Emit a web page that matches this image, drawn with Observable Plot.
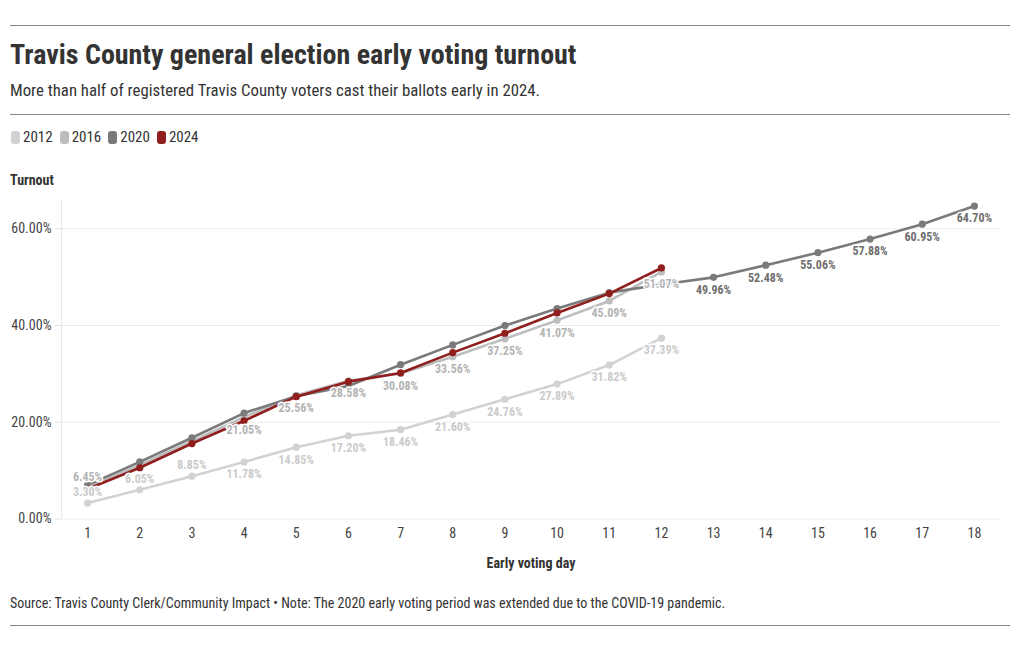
<!DOCTYPE html>
<html>
<head>
<meta charset="utf-8">
<script src="https://cdn.jsdelivr.net/npm/d3@7"></script>
<script src="https://cdn.jsdelivr.net/npm/@observablehq/plot@0.6"></script>
<style>
  html, body { margin: 0; padding: 0; background: #fff; }
  body { width: 1020px; height: 650px; position: relative; overflow: hidden;
         font-family: "Roboto Condensed", "Liberation Sans Narrow", "Arial Narrow", "DejaVu Sans Condensed", Roboto, sans-serif; color: #333; }
  .abs { position: absolute; white-space: nowrap; }
  .rule { position: absolute; left: 10px; width: 1000px; height: 0; border-top: 1px solid #858585; }
  #title { left: 10px; top: 37px; font-size: 28px; font-weight: 700; color: #333; line-height: 36px; }
  #subtitle { left: 10px; top: 80px; font-size: 16.8px; color: #333; line-height: 20px; }
  #legend { left: 11px; top: 128px; font-size: 15px; line-height: 18px; color: #333; display: flex; align-items: center; }
  #legend .item { display: flex; align-items: center; margin-right: 7px; }
  #legend .sw { width: 9px; height: 13px; border-radius: 3px; margin-right: 3px; }
  #ylabel { left: 10px; top: 171px; font-size: 14px; font-weight: 700; color: #333; line-height: 18px; }
  #xlabel { left: 0; width: 1062px; text-align: center; top: 554px; font-size: 14px; font-weight: 700; color: #333; line-height: 18px; }
  #source { left: 10px; top: 594px; font-size: 14px; color: #333; line-height: 18px; }
  #chart { position: absolute; left: 0; top: 195px; }
</style>
</head>
<body>
<div class="rule" style="top:25px"></div>
<div id="title" class="abs">Travis County general election early voting turnout</div>
<div id="subtitle" class="abs">More than half of registered Travis County voters cast their ballots early in 2024.</div>
<div class="rule" style="top:114px"></div>
<div id="legend" class="abs"></div>
<div id="ylabel" class="abs">Turnout</div>
<div id="chart"></div>
<div id="xlabel" class="abs">Early voting day</div>
<div id="source" class="abs">Source: Travis County Clerk/Community Impact • Note: The 2020 early voting period was extended due to the COVID-19 pandemic.</div>
<div class="rule" style="top:625px"></div>
<script>
// ---- data (turnout % by early voting day) ----
const days = [1, 2, 3, 4, 5, 6, 7, 8, 9, 10, 11, 12, 13, 14, 15, 16, 17, 18];
const years = ["2012", "2016", "2020", "2024"];
const turnout2012 = [3.30, 6.05, 8.85, 11.78, 14.85, 17.20, 18.46, 21.60, 24.76, 27.89, 31.82, 37.39];
const turnout2016 = [6.45, 11.2, 16.1, 21.05, 25.56, 28.58, 30.08, 33.56, 37.25, 41.07, 45.09, 51.07];
const turnout2020 = [7.0, 11.8, 16.8, 21.9, 25.4, 27.5, 31.9, 36.0, 40.0, 43.5, 46.8, 48.5, 49.96, 52.48, 55.06, 57.88, 60.95, 64.70];
const turnout2024 = [6.2, 10.6, 15.6, 20.3, 25.3, 28.4, 30.2, 34.4, 38.4, 42.6, 46.6, 51.9];
const yTicks = [0, 20, 40, 60];

const colors = {"2012": "#d2d2d2", "2016": "#bdbdbd", "2020": "#7a7a7a", "2024": "#8f1e1c"};
const labelColors = {"2012": "#cbcbcb", "2016": "#b4b4b4", "2020": "#6f6f6f", "2024": "#8f1e1c"};

const series = {"2012": turnout2012, "2016": turnout2016, "2020": turnout2020, "2024": turnout2024};
const rows = years.flatMap(year => series[year].map((v, i) => ({year, day: days[i], value: v})));

// which points carry a value label, and whether it sits above the point
const labelled = d => d.year === "2012" || (d.year === "2016" && d.day !== 2 && d.day !== 3) || (d.year === "2020" && d.day >= 13);
const above = d => (d.year === "2012" && d.day <= 3) || (d.year === "2016" && d.day === 1);
const labels = rows.filter(labelled);

// legend
const legend = document.getElementById("legend");
for (const y of years) {
  const it = document.createElement("div");
  it.className = "item";
  it.innerHTML = `<span class="sw" style="background:${colors[y]}"></span><span>${y}</span>`;
  legend.appendChild(it);
}

const font = getComputedStyle(document.body).fontFamily;
const fmt = v => v.toFixed(2) + "%";

const lineMarks = years.flatMap(year => {
  const data = rows.filter(d => d.year === year);
  return [
    Plot.line(data, {x: "day", y: "value", stroke: colors[year], strokeWidth: 2.6}),
    Plot.dot(data, {x: "day", y: "value", fill: colors[year], r: 3.6})
  ];
});

const labelStyle = {
  x: "day", y: "value",
  text: d => fmt(d.value),
  fill: d => labelColors[d.year],
  fontWeight: 700, fontSize: 12,
  stroke: "white", strokeWidth: 3, paintOrder: "stroke"
};

const chart = Plot.plot({
  width: 1020,
  height: 350,
  marginLeft: 61,
  marginRight: 20,
  marginTop: 5,
  marginBottom: 26.5,
  style: {fontFamily: font, fontSize: "14px", color: "#444", background: "transparent"},
  x: {domain: [0.5, 18.5], label: null},
  y: {domain: [0, 65.85], label: null},
  marks: [
    Plot.gridY(yTicks, {stroke: "#ebebeb", strokeOpacity: 1}),
    Plot.ruleX([0.5], {stroke: "#e8e8e8"}),
    Plot.axisY(yTicks, {tickFormat: fmt, tickSize: 6, tickPadding: 4, stroke: "#e0e0e0", fill: "#444", label: null}),
    Plot.axisX(days, {tickFormat: d => String(d), tickSize: 0, tickPadding: 9, fill: "#444", label: null}),
    ...lineMarks,
    Plot.text(labels, {...labelStyle, filter: d => !above(d), dy: 12.5}),
    Plot.text(labels, {...labelStyle, filter: d => above(d), dy: -11})
  ]
});
document.getElementById("chart").appendChild(chart);
</script>
</body>
</html>
